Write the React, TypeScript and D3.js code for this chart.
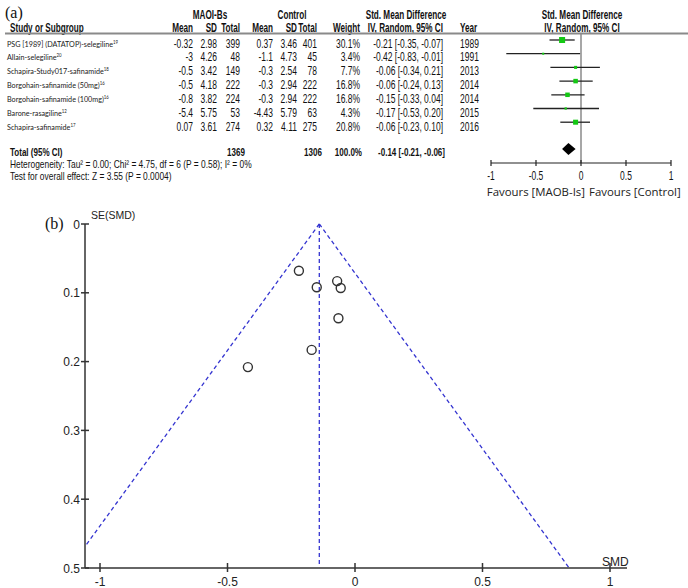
import React from "react";
import * as d3 from "d3";

const studies = [
  "PSG [1989] (DATATOP)-selegiline",
  "Allain-selegiline",
  "Schapira-Study017-safinamide",
  "Borgohain-safinamide (50mg)",
  "Borgohain-safinamide (100mg)",
  "Barone-rasagiline",
  "Schapira-safinamide",
];
const refs = ["19", "20", "18", "16", "16", "12", "17"];
const maoiMean = [-0.32, -3, -0.5, -0.5, -0.8, -5.4, 0.07];
const maoiSD = [2.98, 4.26, 3.42, 4.18, 3.82, 5.75, 3.61];
const maoiN = [399, 48, 149, 222, 224, 53, 274];
const ctrlMean = [0.37, -1.1, -0.3, -0.3, -0.3, -4.43, 0.32];
const ctrlSD = [3.46, 4.73, 2.54, 2.94, 2.94, 5.79, 4.11];
const ctrlN = [401, 45, 78, 222, 222, 63, 275];
const weights = [30.1, 3.4, 7.7, 16.8, 16.8, 4.3, 20.8];
const smd = [-0.21, -0.42, -0.06, -0.06, -0.15, -0.17, -0.06];
const ciLo = [-0.35, -0.83, -0.34, -0.24, -0.33, -0.53, -0.23];
const ciHi = [-0.07, -0.01, 0.21, 0.13, 0.04, 0.2, 0.1];
const years = [1989, 1991, 2013, 2014, 2014, 2015, 2016];
const total = { maoiN: 1369, ctrlN: 1306, weight: 100.0, smd: -0.14, lo: -0.21, hi: -0.06 };
const forestTicks = [-1, -0.5, 0, 0.5, 1];

// funnel plot points
const funnelSMD = [-0.22, -0.42, -0.065, -0.056, -0.15, -0.17, -0.07];
const funnelSE = [0.068, 0.208, 0.137, 0.093, 0.092, 0.183, 0.083];
const funnelXTicks = [-1, -0.5, 0, 0.5, 1];
const funnelYTicks = [0, 0.1, 0.2, 0.3, 0.4, 0.5];

const SANS = "'Liberation Sans', Arial, sans-serif";
const SX = 0.68;

const f2 = (v: number) => v.toFixed(2);
const ciText = (m: number, l: number, h: number) => `${f2(m)} [${f2(l)}, ${f2(h)}]`;

type NProps = {
  x: number;
  y: number;
  anchor?: "start" | "middle" | "end";
  size?: number;
  bold?: boolean;
  sx?: number;
  children: React.ReactNode;
};
function NText({ x, y, anchor = "start", size = 12.5, bold = false, sx = SX, children }: NProps) {
  return (
    <text
      transform={`translate(${x},${y}) scale(${sx},1)`}
      textAnchor={anchor}
      fontFamily={SANS}
      fontSize={size}
      fontWeight={bold ? 700 : 400}
      fill="#111"
    >
      {children}
    </text>
  );
}

export default function App() {
  const xF = d3.scaleLinear().domain([-1, 1]).range([491, 671]);
  const rowText = (i: number) => 43 + i * 13.85;
  const rowMark = (i: number) => 40 + i * 13.7;

  const xS = d3.scaleLinear().domain([-1, 1]).range([100, 610]);
  const yS = d3.scaleLinear().domain([0, 0.5]).range([224, 568]);
  const xMin = xS.invert(85);
  const xMax = xS.invert(627);

  const pooled = total.smd;
  const line = d3.line<[number, number]>()
    .x((d) => xS(d[0]))
    .y((d) => yS(d[1]));
  const seEnd = 0.5;
  const leftSeEnd = (pooled - xMin) / 1.96;
  const leftPts: [number, number][] = [[pooled, 0], [xMin, leftSeEnd]];
  const rightPts: [number, number][] = [[pooled, 0], [pooled + 1.96 * seEnd, seEnd]];

  const colRight = [193, 217, 240, 273, 297, 317, 360, 443];

  const diamond = [
    [xF(total.lo), 149],
    [xF(total.smd), 143],
    [xF(total.hi), 149],
    [xF(total.smd), 155],
  ];

  return (
    <svg width={688} height={588} style={{ position: "absolute", left: 0, top: 0, background: "#fff" }}>
      {/* ---------------- Panel (a) ---------------- */}
      <text x={5} y={18} fontFamily="'Liberation Serif', 'Times New Roman', serif" fontSize={16} fill="#111">(a)</text>
      <NText x={210} y={19} anchor="middle" bold size={12}>MAOI-Bs</NText>
      <NText x={292} y={19} anchor="middle" bold size={12}>Control</NText>
      <NText x={406} y={19} anchor="middle" bold size={12}>Std. Mean Difference</NText>
      <NText x={582} y={19} anchor="middle" bold size={12}>Std. Mean Difference</NText>

      <NText x={10} y={32} bold size={12}>Study or Subgroup</NText>
      {["Mean", "SD", "Total", "Mean", "SD", "Total", "Weight", "IV, Random, 95% CI"].map((h, k) => (
        <NText key={"h" + k} x={colRight[k]} y={32} anchor="end" bold size={12}>{h}</NText>
      ))}
      <NText x={460} y={32} bold size={12}>Year</NText>
      <NText x={582} y={32} anchor="middle" bold size={12}>IV, Random, 95% CI</NText>
      <line x1={5} x2={688} y1={33.5} y2={33.5} stroke="#8a8a8a" strokeWidth={2} />

      {studies.map((s, i) => {
        const y = rowText(i) + 4;
        const vals = [
          String(maoiMean[i]), String(maoiSD[i]), String(maoiN[i]),
          String(ctrlMean[i]), String(ctrlSD[i]), String(ctrlN[i]), weights[i].toFixed(1) + "%",
          ciText(smd[i], ciLo[i], ciHi[i]),
        ];
        return (
          <g key={"r" + i}>
            <text transform={`translate(7,${y - 0.5}) scale(0.87,1)`} fontFamily="Lato, 'Open Sans', sans-serif" fontSize={8.3} fill="#222">
              {s}
              <tspan fontSize={5} dy={-3}>{refs[i]}</tspan>
            </text>
            {vals.map((v, k) => (
              <NText key={k} x={colRight[k]} y={y + 0.5} anchor="end">{v}</NText>
            ))}
            <NText x={460} y={y + 0.5}>{years[i]}</NText>
          </g>
        );
      })}

      {/* forest marks */}
      <line x1={xF(0)} x2={xF(0)} y1={34} y2={163} stroke="#8a8a8a" strokeWidth={1.5} />
      {studies.map((_, i) => {
        const y = rowMark(i);
        const sz = Math.sqrt(weights[i]) * 1.1;
        return (
          <g key={"f" + i}>
            <line x1={xF(ciLo[i])} x2={xF(ciHi[i])} y1={y} y2={y} stroke="#222" strokeWidth={1.3} />
            <rect x={xF(smd[i]) - sz / 2} y={y - sz / 2} width={sz} height={sz} fill="#14c814" />
          </g>
        );
      })}
      <polygon points={diamond.map((p) => p.join(",")).join(" ")} fill="#000" />

      {/* total row */}
      <NText x={10} y={155.5} bold size={11.5} sx={0.7}>Total (95% CI)</NText>
      <NText x={245} y={155.5} anchor="end" bold size={11.5} sx={0.7}>{total.maoiN}</NText>
      <NText x={322} y={155.5} anchor="end" bold size={11.5} sx={0.7}>{total.ctrlN}</NText>
      <NText x={362} y={155.5} anchor="end" bold size={11.5} sx={0.7}>{total.weight.toFixed(1)}%</NText>
      <NText x={445} y={155.5} anchor="end" bold size={11.5} sx={0.7}>{ciText(total.smd, total.lo, total.hi)}</NText>
      <NText x={10} y={168} size={10.5} sx={0.8}>
        Heterogeneity: Tau² = 0.00; Chi² = 4.75, df = 6 (P = 0.58); I² = 0%
      </NText>
      <NText x={10} y={179.5} size={10.5} sx={0.8}>
        Test for overall effect: Z = 3.55 (P = 0.0004)
      </NText>

      {/* forest axis */}
      <line x1={xF(-1)} x2={xF(1)} y1={163} y2={163} stroke="#222" strokeWidth={1.2} />
      {forestTicks.map((t) => (
        <g key={"ft" + t}>
          <line x1={xF(t)} x2={xF(t)} y1={160} y2={166} stroke="#222" strokeWidth={1.2} />
          <NText x={xF(t)} y={179.5} anchor="middle" size={12.5}>{String(t)}</NText>
        </g>
      ))}
      <text x={585} y={196} textAnchor="end" fontFamily="'Open Sans', sans-serif" fontSize={11.4} fill="#222">Favours [MAOB-Is]</text>
      <text x={589} y={196} fontFamily="'Open Sans', sans-serif" fontSize={11.4} fill="#222">Favours [Control]</text>

      {/* ---------------- Panel (b) ---------------- */}
      <text x={45} y={229} fontFamily="'Liberation Serif', 'Times New Roman', serif" fontSize={16} fill="#111">(b)</text>
      <text x={91} y={219} fontFamily={SANS} fontSize={10.5} fill="#222">SE(SMD)</text>

      {/* funnel dashed lines */}
      <path d={line(leftPts) || ""} stroke="#3434d0" strokeWidth={1.3} strokeDasharray="4,3" fill="none" />
      <path d={line(rightPts) || ""} stroke="#3434d0" strokeWidth={1.3} strokeDasharray="4,3" fill="none" />
      <line x1={xS(pooled)} x2={xS(pooled)} y1={yS(0)} y2={yS(0.495)} stroke="#3434d0" strokeWidth={1.3} strokeDasharray="4,3" />

      {/* axes */}
      <line x1={85} x2={85} y1={yS(0)} y2={yS(0.5)} stroke="#333" strokeWidth={1.5} />
      <line x1={85} x2={xS(xMax)} y1={yS(0.5)} y2={yS(0.5)} stroke="#333" strokeWidth={1.5} />
      {funnelYTicks.map((t) => (
        <g key={"yt" + t}>
          <line x1={81} x2={89} y1={yS(t)} y2={yS(t)} stroke="#333" strokeWidth={1.5} />
          <text x={80} y={yS(t) + 4.5} textAnchor="end" fontFamily={SANS} fontSize={12} fill="#222">{String(t)}</text>
        </g>
      ))}
      {funnelXTicks.map((t) => (
        <g key={"xt" + t}>
          <line x1={xS(t)} x2={xS(t)} y1={yS(0.5) - 5} y2={yS(0.5) + 4} stroke="#333" strokeWidth={1.5} />
          <text x={xS(t)} y={586} textAnchor="middle" fontFamily={SANS} fontSize={12} fill="#222">{String(t)}</text>
        </g>
      ))}
      <text x={602} y={566} fontFamily={SANS} fontSize={12} fill="#222">SMD</text>

      {/* points */}
      {funnelSMD.map((v, i) => (
        <circle key={"p" + i} cx={xS(v)} cy={yS(funnelSE[i])} r={4.5} fill="none" stroke="#333" strokeWidth={1.4} />
      ))}
    </svg>
  );
}
